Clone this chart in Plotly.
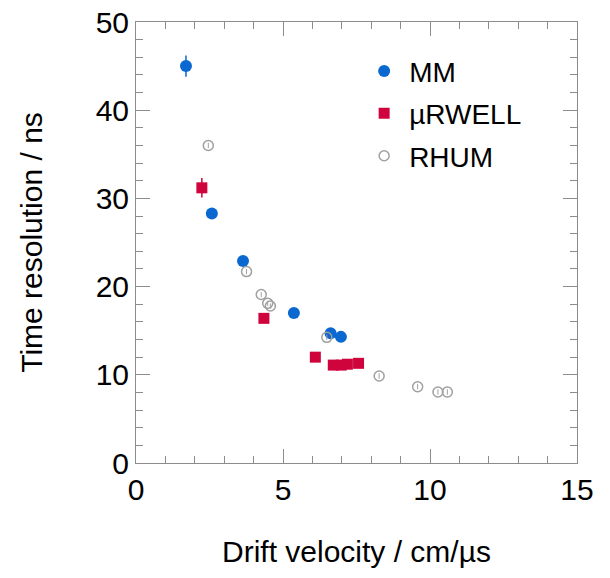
import plotly.graph_objects as go

mm_x = [1.70, 2.58, 3.64, 5.37, 6.62, 6.97]
mm_y = [45.0, 28.3, 22.9, 17.0, 14.7, 14.3]
mm_err = [1.2, 0.4, 0.4, 0.4, 0.4, 0.4]

rw_x = [2.24, 4.35, 6.10, 6.71, 6.98, 7.19, 7.57]
rw_y = [31.2, 16.4, 12.0, 11.1, 11.1, 11.2, 11.3]
rw_err = [1.1, 0.4, 0.3, 0.3, 0.3, 0.3, 0.3]

rh_x = [2.46, 3.76, 4.26, 4.48, 4.57, 6.49, 8.27, 9.58, 10.27, 10.59]
rh_y = [36.0, 21.7, 19.1, 18.1, 17.8, 14.25, 9.86, 8.65, 8.05, 8.05]
rh_err = [0.3] * len(rh_x)

BLUE = "#0a68d0"
RED = "#d0043c"
GRAY = "#a0a0a0"
FONT = "Liberation Sans, Arial, sans-serif"

fig = go.Figure()
fig.add_trace(go.Scatter(
    x=mm_x, y=mm_y, mode="markers", name="MM", legendgroup="a",
    marker=dict(symbol="circle", size=12, color=BLUE),
    error_y=dict(type="data", array=mm_err, color=BLUE, thickness=1.5, width=0),
))
fig.add_trace(go.Scatter(
    x=rw_x, y=rw_y, mode="markers", name="µRWELL", legendgroup="b",
    marker=dict(symbol="square", size=11, color=RED),
    error_y=dict(type="data", array=rw_err, color=RED, thickness=1.5, width=0),
))
fig.add_trace(go.Scatter(
    x=rh_x, y=rh_y, mode="markers", name="RHUM", legendgroup="c",
    marker=dict(symbol="circle-open", size=10, color=GRAY, line=dict(width=1.5, color=GRAY)),
    error_y=dict(type="data", array=rh_err, color=GRAY, thickness=1, width=0),
))

axis_common = dict(
    showgrid=False, zeroline=False, showline=True, linecolor="#8c8c8c", linewidth=1,
    mirror="allticks", ticks="inside", tickcolor="#8c8c8c", tickwidth=1,
    tickfont=dict(family=FONT, size=30, color="black"), automargin=False,
)

fig.update_xaxes(
    range=[0, 15], dtick=5, tick0=0, ticklen=14,
    minor=dict(dtick=1, ticks="inside", ticklen=7, tickcolor="#8c8c8c"),
    title=dict(text="Drift velocity / cm/µs", standoff=35,
               font=dict(family=FONT, size=30, color="black")),
    **axis_common,
)
fig.update_yaxes(
    range=[0, 50], dtick=10, tick0=0, ticklen=14,
    minor=dict(dtick=2, ticks="inside", ticklen=7, tickcolor="#8c8c8c"),
    title=dict(text="Time resolution / ns", standoff=44,
               font=dict(family=FONT, size=30, color="black")),
    **axis_common,
)

fig.update_layout(
    width=610, height=578,
    margin=dict(l=136, r=33, t=22, b=115),
    plot_bgcolor="white", paper_bgcolor="white",
    legend=dict(x=0.506, y=0.945, xanchor="left", yanchor="top", itemwidth=40,
                bgcolor="rgba(0,0,0,0)", tracegroupgap=3,
                font=dict(family=FONT, size=28, color="black")),
)

fig.write_html("out.html")
